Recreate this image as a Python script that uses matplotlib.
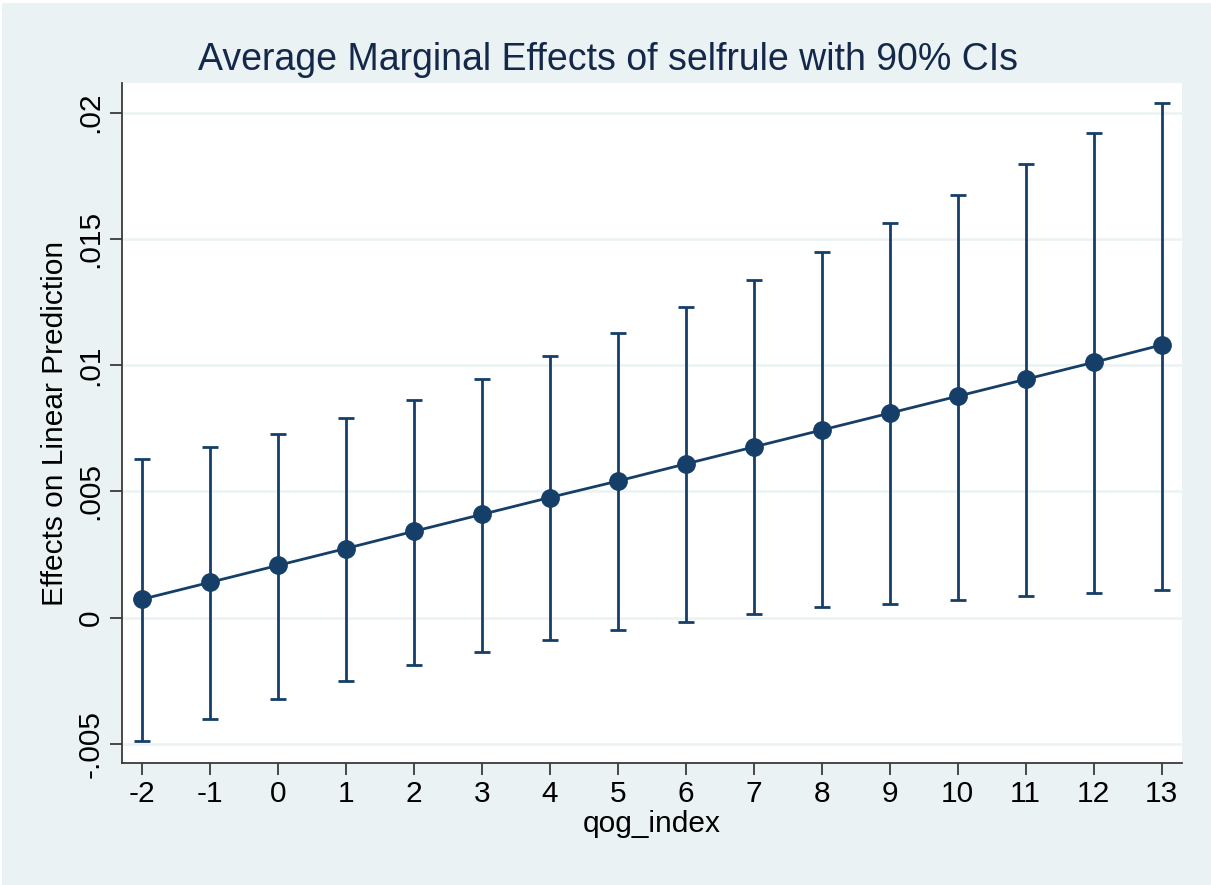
import matplotlib
matplotlib.use("Agg")
import matplotlib.pyplot as plt
from matplotlib.patches import Rectangle

# ---- data ----
qog_index = [-2, -1, 0, 1, 2, 3, 4, 5, 6, 7, 8, 9, 10, 11, 12, 13]
margin = [0.00073, 0.00140, 0.00207, 0.00274, 0.00342, 0.00409, 0.00476, 0.00541,
          0.00609, 0.00676, 0.00743, 0.00810, 0.00877, 0.00944, 0.01011, 0.01080]
ci_upper = [0.00628, 0.00675, 0.00728, 0.00792, 0.00863, 0.00945, 0.01035, 0.01128,
            0.01230, 0.01337, 0.01448, 0.01563, 0.01675, 0.01795, 0.01918, 0.02039]
ci_lower = [-0.00488, -0.00401, -0.00322, -0.00252, -0.00187, -0.00136, -0.00088, -0.00049,
            -0.00017, 0.00015, 0.00042, 0.00054, 0.00071, 0.00087, 0.00099, 0.00110]
y_ticks = [-0.005, 0, 0.005, 0.01, 0.015, 0.02]
y_tick_labels = ['-.005', '0', '.005', '.01', '.015', '.02']
x_ticks = qog_index
x_tick_labels = [str(v) for v in qog_index]
title = "Average Marginal Effects of selfrule with 90% CIs"
xlabel = "qog_index"
ylabel = "Effects on Linear Prediction"

plt.rcParams['font.family'] = ['Liberation Sans', 'DejaVu Sans']

W, H = 1211, 885
BG = '#EAF2F3'
NAVY = '#153F68'

fig = plt.figure(figsize=(W / 100, H / 100), dpi=100, facecolor='white')
fig.patches.append(Rectangle((2 / W, 0), 1 - 2 / W, 1 - 3 / H, transform=fig.transFigure,
                             facecolor=BG, edgecolor='none', zorder=-10))

ax = fig.add_axes([122 / W, (H - 763) / H, (1182 - 122) / W, (763 - 83) / H])
ax.set_facecolor('white')

lo_err = [m - l for m, l in zip(margin, ci_lower)]
hi_err = [u - m for m, u in zip(margin, ci_upper)]
ax.errorbar(qog_index, margin, yerr=[lo_err, hi_err], fmt='none', ecolor=NAVY,
            elinewidth=2.0, capsize=5.8, capthick=2.0, zorder=3)
ax.plot(qog_index, margin, color=NAVY, linewidth=2.0, marker='o', markersize=12.5,
        markerfacecolor=NAVY, markeredgecolor=NAVY, zorder=4)

ax.set_xlim(-2.29, 13.30)
ax.set_ylim(-0.00575, 0.02117)

ax.set_yticks(y_ticks)
ax.set_yticklabels(y_tick_labels, rotation=90, va='center')
ax.set_xticks(x_ticks)
ax.set_xticklabels(x_tick_labels)

ax.grid(axis='y', color=BG, linewidth=1.8, zorder=0)
ax.set_axisbelow(True)

for s in ['top', 'right']:
    ax.spines[s].set_visible(False)
for s in ['left', 'bottom']:
    ax.spines[s].set_color('#3a3a3a')
    ax.spines[s].set_linewidth(1.3)

ax.tick_params(axis='both', direction='out', length=8.5, width=1.3, color='#3a3a3a',
               labelsize=21.5, labelcolor='black')
ax.tick_params(axis='x', pad=4)
ax.tick_params(axis='y', pad=4)

ax.set_xlabel(xlabel, fontsize=21.5, color='black', labelpad=1)
ax.set_ylabel(ylabel, fontsize=21.5, color='black')
ax.yaxis.set_label_coords(-0.05, 0.5)

fig.text(607.5 / W, (H - 70) / H, title, ha='center', va='baseline', fontsize=27,
         color='#14284B')

fig.savefig('out.png', dpi=100, facecolor=fig.get_facecolor())
